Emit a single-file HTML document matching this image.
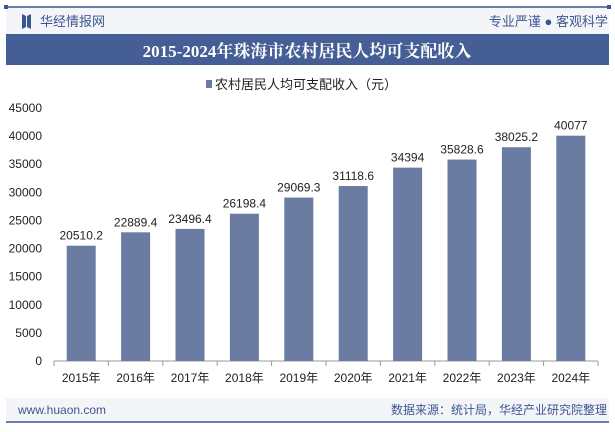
<!DOCTYPE html>
<html><head><meta charset="utf-8"><style>
body{margin:0;width:615px;height:427px;overflow:hidden;background:#fff;font-family:"Liberation Sans","Noto Sans CJK SC",sans-serif;}
</style></head><body>
<svg width="615" height="427" xmlns="http://www.w3.org/2000/svg">
<rect x="6" y="7" width="603" height="27" fill="#f3f5f9"/>
<line x1="6" y1="7" x2="609" y2="7" stroke="#3d5590" stroke-width="1.5"/>
<rect x="4" y="5" width="4" height="4" fill="#3d5590"/><rect x="607" y="5" width="4" height="4" fill="#3d5590"/>
<path d="M22 14 L26 16 L26 27 L22 29 Z M27 16 L31 14 L31 29 L27 27Z" fill="#3d5590"/>
<text x="40" y="26" font-size="13" fill="#3d5590">华经情报网</text>
<text x="608" y="26" font-size="13" fill="#3d5590" text-anchor="end">专业严谨 ● 客观科学</text>
<rect x="6" y="34" width="603" height="31" fill="#455e95"/>
<text x="307" y="57" font-size="17" font-weight="bold" fill="#fff" text-anchor="middle" font-family="Liberation Serif,Noto Serif CJK SC,serif">2015-2024年珠海市农村居民人均可支配收入</text>
<rect x="206" y="80" width="6" height="8" fill="#6a7ca2"/>
<text x="215" y="89" font-size="13" fill="#222">农村居民人均可支配收入（元）</text>
<g id="axes"></g><g id="bars"></g>
<rect x="6" y="398" width="603" height="24" fill="#f3f5f9"/>
<line x1="6" y1="422" x2="609" y2="422" stroke="#3d5590" stroke-width="1.5"/>
<text x="18" y="414" font-size="12" fill="#3d5590">www.huaon.com</text>
<text x="607" y="414" font-size="12" fill="#3d5590" text-anchor="end">数据来源：统计局，华经产业研究院整理</text>
</svg>
<script>
const categories=["2015年","2016年","2017年","2018年","2019年","2020年","2021年","2022年","2023年","2024年"];
const values=[20510.2,22889.4,23496.4,26198.4,29069.3,31118.6,34394,35828.6,38025.2,40077];
const valueLabels=["20510.2","22889.4","23496.4","26198.4","29069.3","31118.6","34394","35828.6","38025.2","40077"];
const yTicks=[0,5000,10000,15000,20000,25000,30000,35000,40000,45000];
const NS="http://www.w3.org/2000/svg";
const x0=54,x1=598,y0=361,yTop=108,yMax=45000;
const band=(x1-x0)/categories.length;
const X=i=>x0+band*(i+0.5);
const Y=v=>y0-(v/yMax)*(y0-yTop);
function mk(t,a,p){const e=document.createElementNS(NS,t);for(const k in a)e.setAttribute(k,a[k]);p.appendChild(e);return e;}
const ax=document.getElementById('axes'),bg=document.getElementById('bars');
yTicks.forEach(v=>{const t=mk('text',{x:42,y:Y(v)+4,'font-size':12,fill:'#222','text-anchor':'end'},ax);t.textContent=v;

});
const xl=mk('line',{x1:x0,y1:y0,x2:x1,y2:y0,stroke:'#999'},ax);


for(let i=0;i<=categories.length;i++)mk('line',{x1:x0+band*i,y1:y0,x2:x0+band*i,y2:y0+5,stroke:'#999'},ax);
categories.forEach((c,i)=>{const t=mk('text',{x:X(i),y:y0+21,'font-size':12,fill:'#222','text-anchor':'middle'},ax);t.textContent=c;


const r=mk('rect',{x:X(i)-14.5,y:Y(values[i]),width:29,height:y0-Y(values[i]),fill:'#6a7ca2'},bg);


const l=mk('text',{x:X(i),y:Y(values[i])-6,'font-size':12,fill:'#222','text-anchor':'middle'},bg);l.textContent=valueLabels[i];

});
</script>
</body></html>
